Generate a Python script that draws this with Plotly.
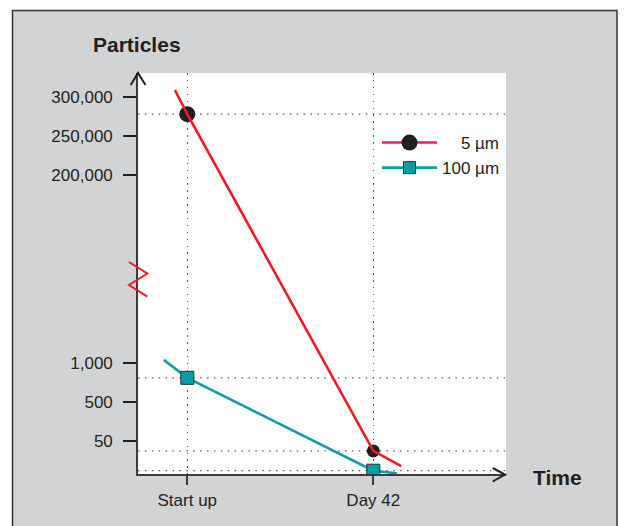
import numpy as np
import plotly.graph_objects as go

# ---------------- data ----------------
TIME_LABELS = ["Start up", "Day 42"]
TIME_DAYS = [0, 42]
SERIES_NAMES = ["5 µm", "100 µm"]
P5_UM = [278000, 35]
P100_UM = [810, 5]
# trend lines through the measurements, running a little past them
P5_TREND_DAYS = [-2.8, 0, 42, 48.3]
P5_TREND = [309000, 278000, 35, 12]
P100_TREND_DAYS = [-5.3, 0, 42, 47.3]
P100_TREND = [1040, 810, 5, 1]
Y_TICK_VALUES = [50, 500, 1000, 200000, 250000, 300000]
Y_TICK_LABELS = ["50", "500", "1,000", "200,000", "250,000", "300,000"]

# ---------------- broken y scale ----------------
LOW_KNOTS = [0, 50, 500, 1000]
LOW_POS = [0, 33, 72, 111]
HIGH_BASE_VALUE = 200000
HIGH_BASE_POS = 299
HIGH_STEP = 39 / 50000


def broken_scale(values):
    out = []
    for v in values:
        if v >= 100000:
            out.append(HIGH_BASE_POS + (v - HIGH_BASE_VALUE) * HIGH_STEP)
        elif v > LOW_KNOTS[-1]:
            slope = (LOW_POS[-1] - LOW_POS[-2]) / (LOW_KNOTS[-1] - LOW_KNOTS[-2])
            out.append(LOW_POS[-1] + (v - LOW_KNOTS[-1]) * slope)
        else:
            out.append(float(np.interp(v, LOW_KNOTS, LOW_POS)))
    return out


# ---------------- style ----------------
W, H = 624, 526
PL, PR, PT, PB = 138, 506, 73, 474
RED = "#ed1c24"
TEAL = "#0a9ea3"
DARK = "#231f20"
AXIS = "#3c3c3c"
GRAY_PANEL = "#d2d3d5"
FONT = "Liberation Sans, Arial, sans-serif"


def px(x):
    return (x - PL) / (PR - PL)


def py(y):
    return (PB - y) / (PB - PT)


fig = go.Figure()

# teal trend line + squares
fig.add_trace(go.Scatter(x=P100_TREND_DAYS, y=broken_scale(P100_TREND), mode="lines",
                         line=dict(color=TEAL, width=2.6), showlegend=False, hoverinfo="skip"))
fig.add_trace(go.Scatter(x=TIME_DAYS, y=broken_scale(P100_UM), mode="markers",
                         marker=dict(symbol="square", size=13, color=TEAL, opacity=1,
                                     line=dict(color="#1d3535", width=1)),
                         showlegend=False))
# black circles + red trend line
fig.add_trace(go.Scatter(x=TIME_DAYS, y=broken_scale(P5_UM), mode="markers",
                         marker=dict(symbol="circle", size=[16, 13], color=DARK, opacity=1,
                                     line=dict(width=0)),
                         showlegend=False))
fig.add_trace(go.Scatter(x=P5_TREND_DAYS, y=broken_scale(P5_TREND), mode="lines",
                         line=dict(color=RED, width=2.6), showlegend=False, hoverinfo="skip"))

# legend entries
fig.add_trace(go.Scatter(x=[None], y=[None], mode="lines+markers",
                         name="\u00a0\u00a0\u00a0\u00a0" + SERIES_NAMES[0],
                         line=dict(color="#e3205a", width=2.6),
                         marker=dict(symbol="circle", size=17, color=DARK, opacity=1)))
fig.add_trace(go.Scatter(x=[None], y=[None], mode="lines+markers", name=SERIES_NAMES[1],
                         line=dict(color=TEAL, width=2.6),
                         marker=dict(symbol="square", size=12, color=TEAL, opacity=1,
                                     line=dict(color="#1d3535", width=1))))

shapes = []
# gray outer panel and white plotting field
shapes.append(dict(type="rect", xref="paper", yref="paper", layer="below",
                   x0=px(12.5), x1=px(617), y0=py(560), y1=py(10.5),
                   fillcolor=GRAY_PANEL, line=dict(color="#333333", width=1.5)))
shapes.append(dict(type="rect", xref="paper", yref="paper", layer="below",
                   x0=0, x1=1, y0=0, y1=1, fillcolor="white", line=dict(width=0)))
# horizontal dotted guides at the measured values
for v in list(P5_UM) + list(P100_UM):
    yv = broken_scale([v])[0]
    shapes.append(dict(type="line", xref="paper", yref="y", layer="below",
                       x0=0, x1=1, y0=yv, y1=yv,
                       line=dict(color="#555555", width=1.3, dash="1.5px,5.4px")))
# axis arrows
shapes.append(dict(type="path", xref="paper", yref="paper",
                   path=f"M{px(130.7)},{py(85)} L{px(138)},{py(73)} L{px(145.5)},{py(85)}",
                   line=dict(color=DARK, width=2)))
shapes.append(dict(type="path", xref="paper", yref="paper",
                   path=f"M{px(492.7)},{py(468)} L{px(505)},{py(474.6)} L{px(492.7)},{py(481.5)}",
                   line=dict(color=DARK, width=2)))
# axis break zigzag
shapes.append(dict(type="path", xref="paper", yref="paper",
                   path=(f"M{px(129)},{py(262)} L{px(147.3)},{py(273.5)} "
                         f"L{px(129)},{py(285)} L{px(147.3)},{py(296.7)}"),
                   line=dict(color=RED, width=2)))

annotations = [
    dict(text="<b>Particles</b>", xref="paper", yref="paper", x=px(136.5), y=py(45),
         showarrow=False, xanchor="center", yanchor="middle",
         font=dict(family=FONT, size=21, color=DARK)),
    dict(text="<b>Time</b>", xref="paper", yref="paper", x=px(557.5), y=py(477),
         showarrow=False, xanchor="center", yanchor="middle",
         font=dict(family=FONT, size=21, color=DARK)),
]

yrange = [0, PB - PT]
xrange = [(PL - 187.3) / (186 / 42), (PR - 187.3) / (186 / 42)]

fig.update_layout(
    width=W, height=H,
    margin=dict(l=PL, r=W - PR, t=PT, b=H - PB, pad=0),
    paper_bgcolor="white", plot_bgcolor="white",
    shapes=shapes, annotations=annotations,
    showlegend=True,
    legend=dict(x=px(377), y=py(125), xanchor="left", yanchor="top",
                bgcolor="rgba(0,0,0,0)", itemwidth=55,
                font=dict(family=FONT, size=17, color=DARK), tracegroupgap=0),
    xaxis=dict(range=xrange, tickvals=TIME_DAYS, ticktext=TIME_LABELS,
               showline=True, linecolor=AXIS, linewidth=1.6,
               ticks="outside", ticklen=9, tickwidth=1.6, tickcolor=AXIS,
               showgrid=True, gridcolor="#555555", gridwidth=1.3, griddash="1.5px,5.4px",
               zeroline=False, tickfont=dict(family=FONT, size=17, color=DARK),
               ticklabelstandoff=1, fixedrange=True),
    yaxis=dict(range=yrange, tickvals=broken_scale(Y_TICK_VALUES), ticktext=Y_TICK_LABELS,
               showline=True, linecolor=AXIS, linewidth=1.6,
               ticks="outside", ticklen=13, tickwidth=1.6, tickcolor=DARK,
               showgrid=False, zeroline=False,
               tickfont=dict(family=FONT, size=17, color=DARK),
               ticklabelstandoff=7, fixedrange=True),
    yaxis2=dict(range=yrange, overlaying="y", anchor="x", side="left",
                tickvals=broken_scale(Y_TICK_VALUES), showticklabels=False,
                ticks="inside", ticklen=13, tickwidth=1.6, tickcolor=DARK,
                showgrid=False, zeroline=False, showline=False, fixedrange=True),
)

fig.write_html("out.html", config={"displayModeBar": False},
               post_script="document.body.style.margin='0';document.body.style.overflow='hidden';")
